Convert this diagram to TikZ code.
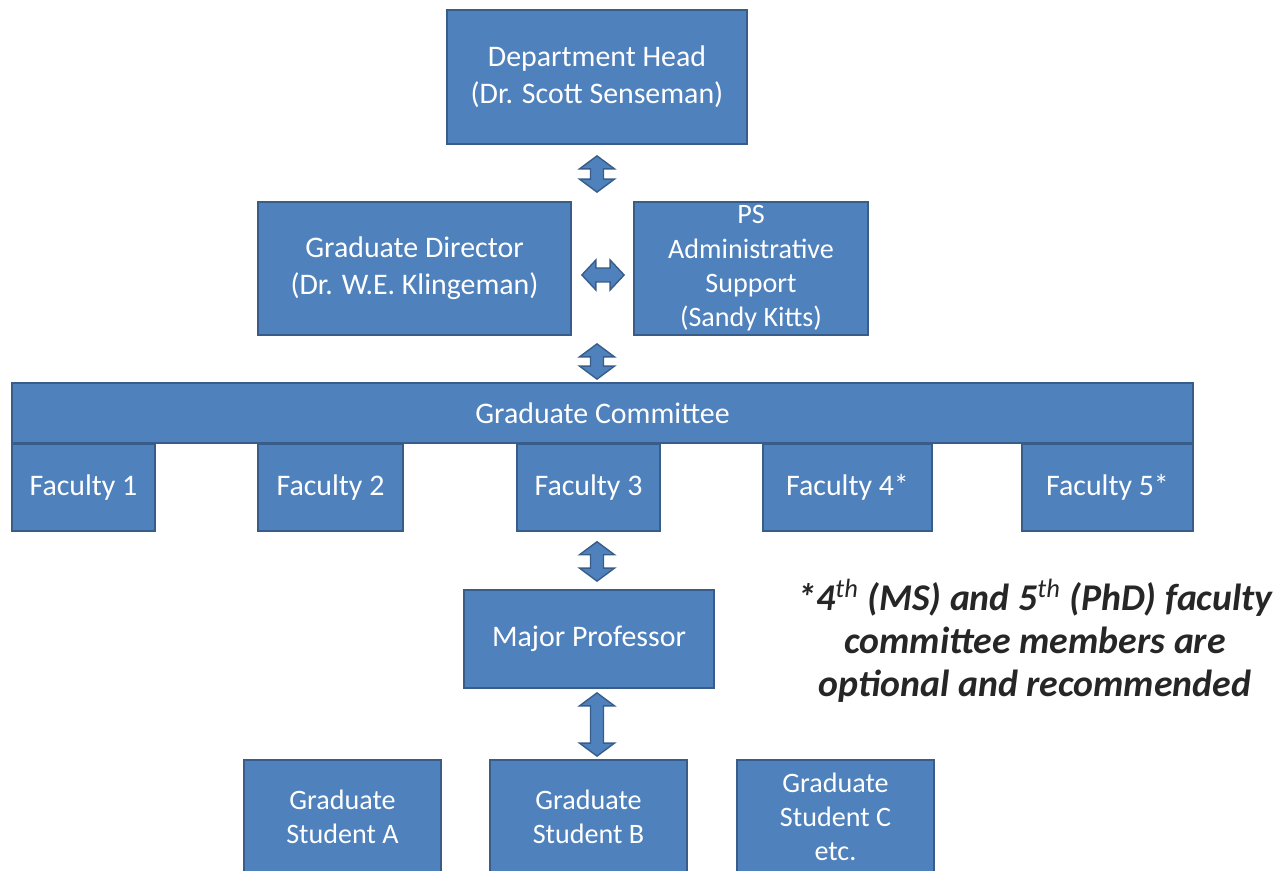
\documentclass[tikz,border=0pt]{standalone}
\usepackage{fontspec}
\setmainfont{Carlito}
\usetikzlibrary{calc,positioning}
\definecolor{boxblue}{RGB}{79,129,189}
\definecolor{edgeblue}{RGB}{56,93,138}

\tikzset{
	box/.style={rectangle,draw=edgeblue,fill=boxblue,line width=1pt,text=white,align=center,inner sep=0pt,font=\fontsize{17}{21}\selectfont},
	smallbox/.style={box,font=\fontsize{16}{19.5}\selectfont},
	varrow/.style={draw=edgeblue,fill=boxblue,line width=0.8pt,
		to path={let \p1=(\tikztostart), \p2=(\tikztotarget) in
			-- (\x1+0.35cm,\y1-0.26cm) -- (\x1+0.13cm,\y1-0.26cm) -- (\x1+0.13cm,\y2+0.26cm) -- (\x1+0.35cm,\y2+0.26cm)
			-- (\x1,\y2) -- (\x1-0.35cm,\y2+0.26cm) -- (\x1-0.13cm,\y2+0.26cm) -- (\x1-0.13cm,\y1-0.26cm)
			-- (\x1-0.35cm,\y1-0.26cm) -- cycle}},
	harrow/.style={draw=edgeblue,fill=boxblue,line width=0.8pt,
		to path={let \p1=(\tikztostart), \p2=(\tikztotarget) in
			-- (\x1+0.28cm,\y1+0.3cm) -- (\x1+0.28cm,\y1+0.14cm) -- (\x2-0.28cm,\y1+0.14cm) -- (\x2-0.28cm,\y1+0.3cm)
			-- (\x2,\y1) -- (\x2-0.28cm,\y1-0.3cm) -- (\x2-0.28cm,\y1-0.14cm) -- (\x1+0.28cm,\y1-0.14cm)
			-- (\x1+0.28cm,\y1-0.3cm) -- cycle}}
}

\begin{document}
\begin{tikzpicture}
		\useasboundingbox (0,0) rectangle (25.68,-17.42);
		
		\node[box,minimum width=6cm,minimum height=2.68cm] (head) at (11.94,-1.54) {Department Head\\(Dr. Scott Senseman)};
		
		\node[box,minimum width=6.26cm,minimum height=2.66cm] (gdir) at (8.29,-5.37) {Graduate Director\\(Dr. W.E. Klingeman)};
		\node[smallbox,minimum width=4.68cm,minimum height=2.66cm] (admin) at (15.02,-5.37) {PS\\Administrative\\Support\\(Sandy Kitts)};
		
		\node[box,minimum width=23.62cm,minimum height=1.2cm] (comm) at (12.05,-8.26) {Graduate Committee};
		
		\node[box,anchor=north,minimum width=2.86cm,minimum height=1.74cm] (fac1) at (1.67,-8.86) {Faculty 1};
		\node[box,anchor=north,minimum width=2.9cm,minimum height=1.74cm] (fac2) at (6.61,-8.86) {Faculty 2};
		\node[box,anchor=north,minimum width=2.86cm,minimum height=1.74cm] (fac3) at (11.77,-8.86) {Faculty 3};
		\node[box,anchor=north,minimum width=3.38cm,minimum height=1.74cm] (fac4) at (16.95,-8.86) {Faculty 4*};
		\node[box,anchor=north,minimum width=3.42cm,minimum height=1.74cm] (fac5) at (22.15,-8.86) {Faculty 5*};
		
		\node[box,minimum width=5cm,minimum height=1.96cm] (major) at (11.78,-12.78) {Major Professor};
		
		\node[smallbox,minimum width=3.94cm,minimum height=2.28cm] (studA) at (6.85,-16.34) {Graduate\\Student A};
		\node[smallbox,minimum width=3.94cm,minimum height=2.28cm] (studB) at (11.77,-16.34) {Graduate\\Student B};
		\node[smallbox,minimum width=3.94cm,minimum height=2.28cm] (studC) at (16.71,-16.34) {Graduate\\Student C\\etc.};
		
		% note on the optional members
		\node[font=\fontsize{21.5}{24.5}\selectfont\bfseries\itshape,text=black!85,align=center] (note) at (20.7,-12.82)
		{*4\textsuperscript{\mdseries th} (MS) and 5\textsuperscript{\mdseries th} (PhD) faculty\\committee members are\\optional and recommended};
		
		% block arrows
		\draw[varrow] ([yshift=-0.22cm]head.south) to ($(gdir.north -| head)+(0,0.18)$);
		\draw[harrow] ($(gdir.east)+(0.2,-0.13)$) to ($(admin.west)+(-0.18,-0.13)$);
		\draw[varrow] ($(gdir.south -| head)+(0,-0.16)$) to ($(comm.north -| head)+(0,0.06)$);
		\draw[varrow] ($(fac3.south -| head)+(0,-0.2)$) to ($(major.north -| head)+(0,0.16)$);
		\draw[varrow] ($(major.south -| head)+(0,-0.08)$) to ($(studB.north -| head)+(0,0.06)$);
		
		\end{tikzpicture}
\end{document}
